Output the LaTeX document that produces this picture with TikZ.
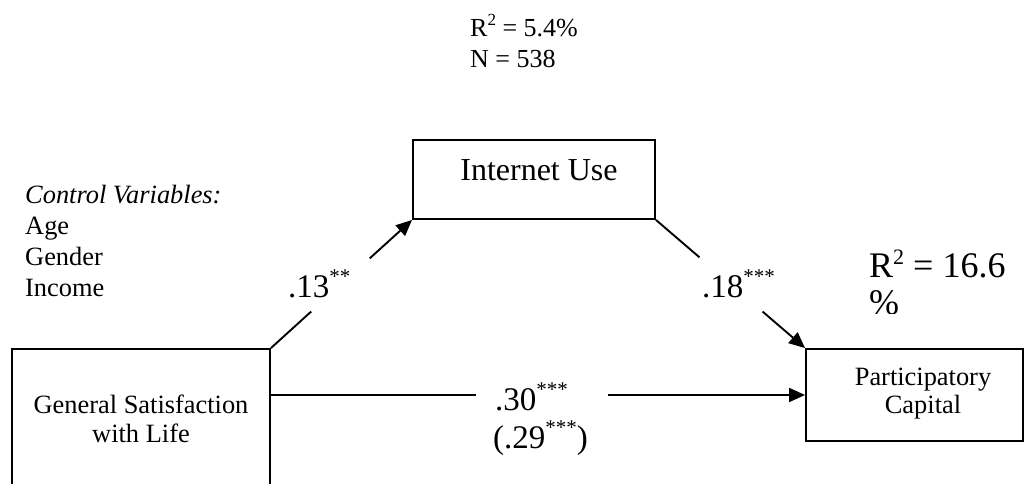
\documentclass[tikz,border=0pt]{standalone}
\usepackage{fontspec}
\setmainfont{Liberation Serif}
\usetikzlibrary{arrows.meta}
\newcommand\fs[1]{\fontsize{#1}{#1}\selectfont}
\newcommand\sigstars[1]{\raisebox{14pt}{\fs{21pt}#1}}
\newcommand\rsq[2]{R\raisebox{#1}{\fs{#2}2}}
\begin{document}
\begin{tikzpicture}[x=1pt,y=-1pt,
  box/.style={draw,line width=1.9pt,inner sep=0pt,rectangle},
  txt/.style={inner sep=0pt,anchor=base,font=\fs{26.4pt}},
  txtl/.style={inner sep=0pt,anchor=base west,font=\fs{26.4pt}},
  coef/.style={inner sep=0pt,anchor=base west,font=\fs{33pt}},
  conn/.style={line width=1.9pt},
  arr/.style={conn,-{Triangle[length=16pt,width=14pt]}}]
\useasboundingbox (0,0) rectangle (1028,484);
\clip (0,0) rectangle (1028,484);
% header
\node[txtl,font=\fs{26pt}] (r2top) at (470,37) {\rsq{11pt}{17pt} = 5.4\%};
\node[txtl,font=\fs{26pt}] (ntop) at (470,68) {N = 538};
% control variables
\node[txtl] (cv0) at (25,203) {\textit{Control Variables:}};
\node[txtl] (cv1) at (25,234) {Age};
\node[txtl] (cv2) at (25,265) {Gender};
\node[txtl] (cv3) at (25,296) {Income};
% boxes
\node[box,minimum width=242pt,minimum height=79pt] (iu) at (534,179.5) {};
\node[txt,font=\fs{32pt}] (iut) at (539,180) {Internet Use};
\node[box,minimum width=258pt,minimum height=171pt] (gsl) at (141,434.5) {};
\node[txt] (gsl1) at (141,413) {General Satisfaction};
\node[txt] (gsl2) at (141,442) {with Life};
\node[box,minimum width=217pt,minimum height=92pt] (pc) at (914.5,395) {};
\node[txt] (pc1) at (923,385) {Participatory};
\node[txt] (pc2) at (923,413) {Capital};
% R2 of outcome
\node[inner sep=0pt,anchor=base west,font=\fs{36pt}] (r2pc) at (869,277) {\rsq{13pt}{22pt} = 16.6};
\begin{scope}
\clip (860,280) rectangle (960,313);
\node[inner sep=0pt,anchor=base west,font=\fs{36pt}] (pct) at (869,314) {\%};
\end{scope}
% connectors
\path (gsl.north east) -- (iu.south west) coordinate[pos=0.285] (a1) coordinate[pos=0.70] (a2);
\draw[conn] (gsl.north east) -- (a1);
\draw[arr] (a2) -- (iu.south west);
\path (iu.south east) -- (pc.north west) coordinate[pos=0.292] (b1) coordinate[pos=0.715] (b2);
\draw[conn] (iu.south east) -- (b1);
\draw[arr] (b2) -- (pc.north west);
\coordinate (cstart) at (gsl.east |- pc.west);
\path (cstart) -- (pc.west) coordinate[pos=0.384] (c1) coordinate[pos=0.631] (c2);
\draw[conn] (cstart) -- (c1);
\draw[arr] (c2) -- (pc.west);
% coefficient labels
\node[coef] (k13) at (288,297) {.13\sigstars{**}};
\node[coef] (k18) at (702,297) {.18\sigstars{***}};
\node[coef] (k30) at (495,410) {.30\sigstars{***}};
\node[coef] (k29) at (493,448) {(.29\sigstars{***})};
\end{tikzpicture}
\end{document}
